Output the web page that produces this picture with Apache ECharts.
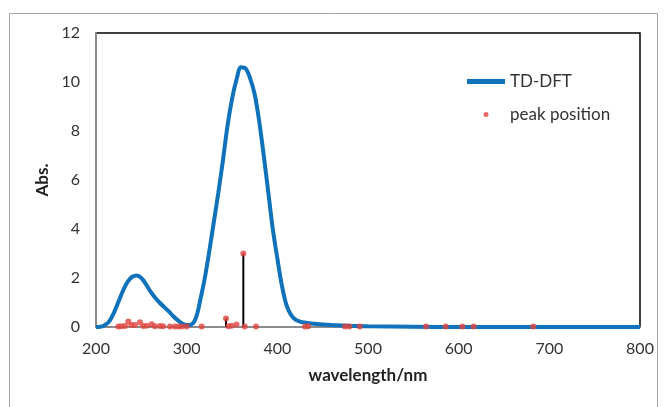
<!DOCTYPE html>
<html>
<head>
<meta charset="utf-8">
<script src="https://cdn.jsdelivr.net/npm/echarts@6/dist/echarts.min.js"></script>
<style>html,body{margin:0;padding:0;background:#fff}#c{width:664px;height:407px}</style>
</head>
<body>
<div id="c"></div>
<script>
// TD-DFT simulated spectrum (wavelength nm, absorbance)
const curveX = [200,205,210,215,220,225,230,235,240,245,250,255,260,265,270,275,280,285,290,295,300,305,310,315,320,325,330,335,340,345,350,355,360,365,370,375,380,385,390,395,400,405,410,415,420,425,430,440,450,460,480,500,550,600,700,800];
const curveY = [0,0.01,0.08,0.25,0.6,1.05,1.5,1.85,2.05,2.1,2.0,1.75,1.45,1.2,1.0,0.82,0.65,0.45,0.28,0.14,0.08,0.1,0.35,1.1,2.0,3.1,4.3,5.5,6.8,8.2,9.3,10.1,10.6,10.55,10.15,9.5,8.4,7.0,5.5,4.0,2.8,1.7,0.9,0.5,0.3,0.22,0.18,0.13,0.1,0.08,0.05,0.03,0.01,0,0,0];
// peak positions
const peakX = [224.6,228,232,235.7,239,243,248.5,252,256,261.4,265,270.6,274,281.6,287,291,294.5,300,316.5,343.4,346,349.6,355,362.5,364,376.5,430.5,434,474.6,479.4,491,564,585.7,604,616.5,682.3];
const peakY = [0.02,0.03,0.04,0.22,0.08,0.08,0.19,0.04,0.05,0.11,0.03,0.04,0.03,0.02,0.02,0.02,0.02,0.02,0.02,0.35,0.03,0.05,0.1,3.0,0.02,0.02,0.02,0.03,0.02,0.02,0.02,0.02,0.02,0.02,0.02,0.02];
// stick lines
const stickX = [343.4,362.5];
const stickY = [0.35,3.0];
const xTicks = [200,300,400,500,600,700,800];
const yTicks = [0,2,4,6,8,10,12];

const chart = echarts.init(document.getElementById('c'), null, {renderer:'canvas'});
const font = 'Lato, "Open Sans", sans-serif';
chart.setOption({
  animation:false,
  backgroundColor:'#fff',
  graphic:[{type:'rect',shape:{x:9.5,y:13.5,width:648,height:420},style:{fill:'none',stroke:'#a6a6a6',lineWidth:1},z:-10}],
  grid:{left:96,right:24,top:33,bottom:80,show:true,borderColor:'#000',borderWidth:1.5,backgroundColor:'#fff'},
  legend:{
    orient:'vertical',left:462,top:68,itemWidth:38,itemHeight:5,itemGap:16,
    textStyle:{fontFamily:font,fontSize:17,color:'#333'},
    data:[{name:'TD-DFT',icon:'rect',itemStyle:{color:'#0f72bb'}},{name:'peak position',icon:'circle'}]
  },
  xAxis:{type:'value',min:xTicks[0],max:xTicks[xTicks.length-1],interval:100,
    name:'wavelength/nm',nameLocation:'middle',nameGap:40,
    nameTextStyle:{fontFamily:font,fontSize:17,fontWeight:'bold',color:'#222'},
    axisLine:{lineStyle:{color:'#8c8c8c',width:2}},axisTick:{show:false},splitLine:{show:false},
    axisLabel:{fontFamily:font,fontSize:16,color:'#333',margin:14}},
  yAxis:{type:'value',min:yTicks[0],max:yTicks[yTicks.length-1],interval:2,
    name:'Abs.',nameLocation:'middle',nameGap:44,nameRotate:90,
    nameTextStyle:{fontFamily:font,fontSize:17,fontWeight:'bold',color:'#222'},
    axisLine:{show:true,lineStyle:{color:'#8c8c8c',width:2}},axisTick:{show:false},splitLine:{show:false},
    axisLabel:{fontFamily:font,fontSize:16,color:'#333',margin:16}},
  series:[
    {name:'TD-DFT',type:'line',smooth:0.35,showSymbol:false,z:2,
      lineStyle:{color:'#0f72bb',width:4},itemStyle:{color:'#0f72bb'},
      data:curveX.map((x,i)=>[x,curveY[i]])},
    {name:'sticks',type:'custom',z:3,
      data:stickX.map((x,i)=>[x,stickY[i]]),
      renderItem:function(params,api){
        const p0=api.coord([api.value(0),0]);
        const p1=api.coord([api.value(0),api.value(1)]);
        return {type:'line',shape:{x1:p0[0],y1:p0[1],x2:p1[0],y2:p1[1]},style:{stroke:'#000',lineWidth:2}};
      }},
    {name:'peak position',type:'scatter',symbol:'circle',symbolSize:6,z:4,
      itemStyle:{color:'#e0443e'},
      data:peakX.map((x,i)=>[x,peakY[i]])}
  ]
});
</script>
</body>
</html>
